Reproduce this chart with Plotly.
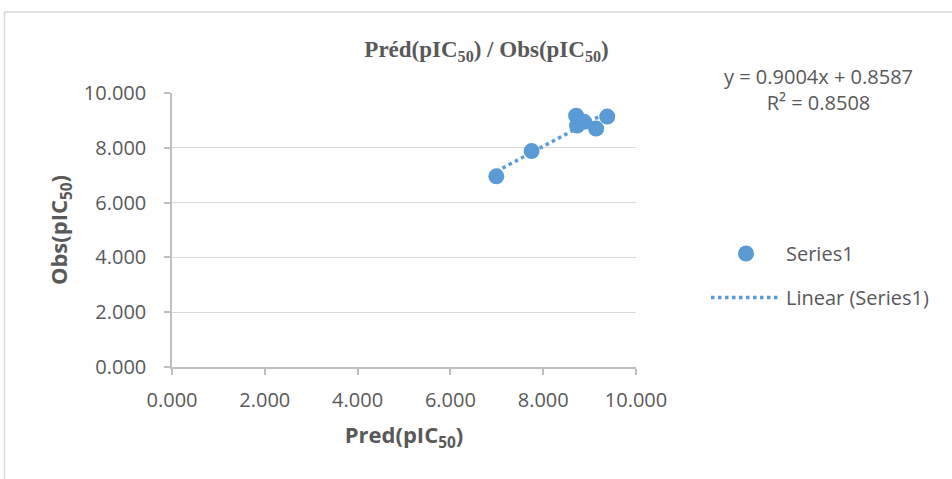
import numpy as np
import plotly.graph_objects as go

# ---- data ----
pred = [6.99, 7.75, 8.71, 8.73, 8.88, 9.14, 9.38]
obs = [6.96, 7.88, 9.17, 8.81, 8.95, 8.70, 9.14]
series_name = "Series1"
trend_name = "Linear (Series1)"
equation_text = "y = 0.9004x + 0.8587"
r2_text = "R² = 0.8508"
tick_vals = [0, 2, 4, 6, 8, 10]
tick_text = ["0.000", "2.000", "4.000", "6.000", "8.000", "10.000"]

# linear trend line computed from the data
slope, intercept = np.polyfit(pred, obs, 1)
tx = [min(pred), max(pred)]
ty = [slope * v + intercept for v in tx]

BLUE = "#5b9bd5"
TXT = "#595959"
W, H = 952, 479
L, R, T, B = 172, 316, 93, 112
PW, PH = W - L - R, H - T - B


def px_x(px):
    """page pixel x -> paper coordinate"""
    return (px - L) / PW


def px_y(py):
    """page pixel y -> paper coordinate"""
    return (H - B - py) / PH


fig = go.Figure()
fig.add_trace(go.Scatter(
    x=pred, y=obs, mode="markers", name=series_name, legendgroup="a",
    marker=dict(color=BLUE, size=16, line=dict(width=0)),
))
fig.add_trace(go.Scatter(
    x=tx, y=ty, mode="lines", name=trend_name, legendgroup="b",
    line=dict(color=BLUE, width=3.5, dash="3.5px,3.5px"),
))

axis_common = dict(
    range=[0, 10], tickvals=tick_vals, ticktext=tick_text,
    showline=True, linecolor="#bfbfbf", linewidth=1.5,
    ticks="outside", tickcolor="#bfbfbf", ticklen=6, tickwidth=1.5,
    zeroline=False, fixedrange=True,
    tickfont=dict(family="Open Sans", size=20, color=TXT),
)

fig.update_layout(
    width=W, height=H,
    margin=dict(l=L, r=R, t=T, b=B),
    paper_bgcolor="white", plot_bgcolor="white",
    title=dict(
        text="<b>Préd(pIC<sub>50</sub>) / Obs(pIC<sub>50</sub>)</b>",
        x=486.5 / W, xanchor="center", y=1 - 49 / H,
        yanchor="middle",
        font=dict(family="Liberation Serif", size=23, color=TXT),
    ),
    xaxis=dict(
        **axis_common, showgrid=False, ticklabelstandoff=8,
        title=dict(text="<b>Pred(pIC<sub>50</sub>)</b>", standoff=16,
                   font=dict(family="Open Sans", size=22, color=TXT)),
    ),
    yaxis=dict(
        **axis_common, showgrid=True, gridcolor="#d9d9d9", gridwidth=1,
        ticklabelstandoff=14,
        title=dict(text="<b>Obs(pIC<sub>50</sub>)</b>", standoff=10,
                   font=dict(family="Open Sans", size=22, color=TXT)),
    ),
    showlegend=True,
    legend=dict(
        x=px_x(706), xanchor="left", y=px_y(234), yanchor="top",
        traceorder="grouped", tracegroupgap=15, itemwidth=70,
        bgcolor="rgba(0,0,0,0)",
        font=dict(family="Open Sans", size=20, color=TXT),
    ),
    annotations=[dict(
        xref="paper", yref="paper", x=px_x(818), y=px_y(90),
        xanchor="center", yanchor="middle", align="center", showarrow=False,
        text=equation_text + "<br>" + r2_text,
        font=dict(family="Open Sans", size=20, color=TXT),
    )],
    shapes=[
        dict(type="line", xref="paper", yref="paper", layer="below",
             x0=px_x(4.5), x1=px_x(960), y0=px_y(12), y1=px_y(12),
             line=dict(color="#d9d9d9", width=1.5)),
        dict(type="line", xref="paper", yref="paper", layer="below",
             x0=px_x(4.5), x1=px_x(4.5), y0=px_y(12), y1=px_y(490),
             line=dict(color="#d9d9d9", width=1.5)),
    ],
)

fig.write_html(
    "out.html",
    config={"displayModeBar": False},
    post_script="document.body.style.margin='0';"
                "document.body.style.overflow='hidden';",
)
